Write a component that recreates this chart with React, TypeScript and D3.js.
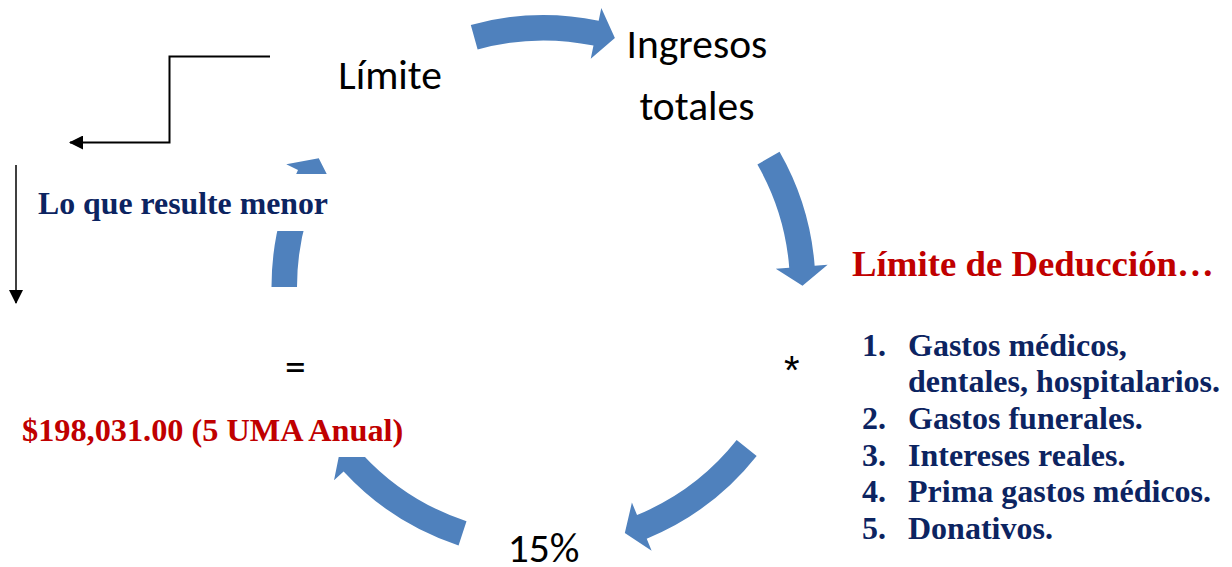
import React, { useEffect } from 'react';
import * as d3 from 'd3';

const W = 1232;
const H = 567;

// Cycle nodes (text only), placed clockwise on the circle
const nodeLines: string[][] = [['Límite'], ['Ingresos', 'totales'], ['*'], ['15%'], ['=']];
const nodeAngles = [-126, -54, 18, 90, 162];

// Curved arrows between nodes: tail, head-back and tip angles (deg, clockwise from east)
const arrowTail = [-105.5, -29.8, 38.4, 108.2, 180];
const arrowBack = [-78.3, -4.5, 67.7, 137.3, 205.5];
const arrowTip = [-74, -0.3, 71.7, 141.6, 209.8];

// Side texts
const noteText = 'Lo que resulte menor';
const amountText = '$198,031.00 (5 UMA Anual)';
const deductionTitle = 'Límite de Deducción…';
const deductionNumbers = ['1.', '', '2.', '3.', '4.', '5.'];
const deductionLines = [
  'Gastos médicos,',
  'dentales, hospitalarios.',
  'Gastos funerales.',
  'Intereses reales.',
  'Prima gastos médicos.',
  'Donativos.',
];

const BLUE = '#4F81BD';
const RED = '#C00000';
const NAVY = '#0C2461';
const SANS = 'Carlito, Lato, "Open Sans", sans-serif';
const SERIF = '"Liberation Serif", "Times New Roman", serif';

const cx = 543.5;
const cy = 287;
const rad = d3.scaleLinear().domain([0, 360]).range([0, 2 * Math.PI]);
const nodeR = 261;
const rMid = 259;
const rIn = 246.5;
const rOut = 272;
const rHeadIn = 233;
const rHeadOut = 285;

function pt(r: number, a: number): [number, number] {
  return [cx + r * Math.cos(rad(a)), cy + r * Math.sin(rad(a))];
}

function arrowPath(t: number, b: number, tip: number): string {
  const p = d3.path();
  const o0 = pt(rOut, t);
  p.moveTo(o0[0], o0[1]);
  p.arc(cx, cy, rOut, rad(t), rad(b), false);
  const ho = pt(rHeadOut, b);
  p.lineTo(ho[0], ho[1]);
  const tp = pt(rMid, tip);
  p.lineTo(tp[0], tp[1]);
  const hi = pt(rHeadIn, b);
  p.lineTo(hi[0], hi[1]);
  const bi = pt(rIn, b);
  p.lineTo(bi[0], bi[1]);
  p.arc(cx, cy, rIn, rad(b), rad(t), true);
  p.closePath();
  return p.toString();
}

export default function App() {
  useEffect(() => {
    document.body.style.margin = '0';
  }, []);

  const lineSpacing = 36.7;
  const listTop = 355.5;

  return (
    <svg width={W} height={H} viewBox={`0 0 ${W} ${H}`} style={{ display: 'block', background: '#fff' }}>
      <defs>
        <marker id="ah" viewBox="0 0 14 14" refX="13" refY="7" markerWidth="14" markerHeight="14" markerUnits="userSpaceOnUse" orient="auto">
          <path d="M0,0 L14,7 L0,14 Z" fill="#000" />
        </marker>
      </defs>

      {/* cycle arrows */}
      {arrowTail.map((t, i) => (
        <path key={i} d={arrowPath(t, arrowBack[i], arrowTip[i])} fill={BLUE} />
      ))}

      {/* text boxes with white fill */}
      <rect x={30} y={174} width={310} height={57} fill="#fff" />
      <rect x={15} y={412} width={400} height={45} fill="#fff" />

      {/* connector lines */}
      <polyline points="270,56.5 169.5,56.5 169.5,142.5 70,142.5" fill="none" stroke="#000" strokeWidth={2} markerEnd="url(#ah)" />
      <line x1={16} y1={165} x2={16} y2={303} stroke="#000" strokeWidth={1.5} markerEnd="url(#ah)" />

      {/* node labels */}
      {nodeLines.map((lines, i) => {
        const [x, y] = pt(nodeR, nodeAngles[i]);
        const n = lines.length;
        const isStar = lines[0] === '*';
        return lines.map((ln, j) => (
          <text
            key={`${i}-${j}`}
            x={x}
            y={y + (isStar ? 16 : 13.5) + (j - (n - 1) / 2) * 62}
            textAnchor="middle"
            fontFamily={isStar ? '"Liberation Sans", Arial, sans-serif' : SANS}
            fontSize={isStar ? 40 : 41.5}
            fill="#000"
          >
            {ln}
          </text>
        ));
      })}

      {/* side notes */}
      <text x={38} y={214} fontFamily={SERIF} fontWeight="bold" fontSize={31.8} fill={NAVY}>
        {noteText}
      </text>
      <text x={22} y={441} fontFamily={SERIF} fontWeight="bold" fontSize={32.3} fill={RED}>
        {amountText}
      </text>
      <text x={852} y={276} fontFamily={SERIF} fontWeight="bold" fontSize={36.8} fill={RED}>
        {deductionTitle}
      </text>
      {deductionLines.map((ln, i) => (
        <g key={i}>
          {deductionNumbers[i] && (
            <text x={862} y={listTop + i * lineSpacing} fontFamily={SERIF} fontWeight="bold" fontSize={32} fill={NAVY}>
              {deductionNumbers[i]}
            </text>
          )}
          <text x={908} y={listTop + i * lineSpacing} fontFamily={SERIF} fontWeight="bold" fontSize={32} fill={NAVY}>
            {ln}
          </text>
        </g>
      ))}
    </svg>
  );
}
